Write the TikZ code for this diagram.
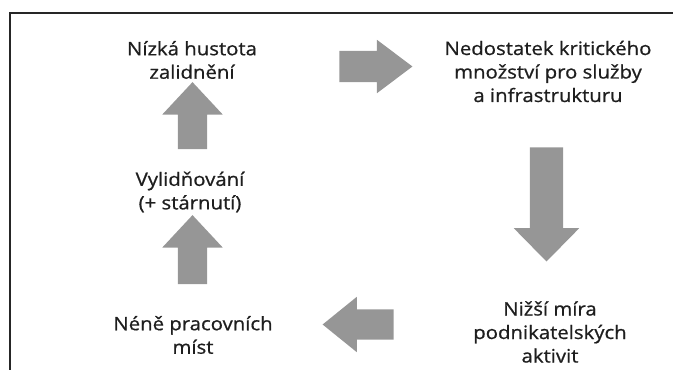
\documentclass[tikz,border=0pt]{standalone}
\usepackage{fontspec}
\newfontfamily\popisfont{Open Sans}[FakeStretch=1.1, FakeBold=0.8]
\usetikzlibrary{shapes.arrows}
\definecolor{sipka}{RGB}{150,150,150}
\definecolor{pismo}{RGB}{30,30,30}
\tikzset{
	popis/.style={align=center, text=pismo, inner sep=0pt,
		font=\popisfont\fontsize{18.5}{23.5}\selectfont},
	blok/.style={shape=single arrow, fill=sipka, draw=none, inner xsep=0pt,
		single arrow head indent=0pt, anchor=center}
}
\begin{document}
\begin{tikzpicture}[x=1pt, y=-1pt]
	\useasboundingbox (0, 0) rectangle (673, 370);
	% Rahmen oben und links
	\draw[line width=2.5pt, black!85] (10, 370) -- (10, 13) -- (673, 13);
	% Texte
	\node[popis] (hustota) at (192, 60) {N\'{\i}zk\'a hustota\\zalidn\v{e}n\'{\i}};
	\node[popis] (kapacita) at (548, 71.5) {Nedostatek kritick\'eho\\mno\v{z}stv\'{\i} pro slu\v{z}by\\a infrastrukturu};
	\node[popis] (podnikani) at (550, 332) {Ni\v{z}\v{s}\'{\i} m\'{\i}ra\\podnikatelsk\'ych\\aktivit};
	\node[popis] (mista) at (193, 335) {N\'en\v{e} pracovn\'{\i}ch\\m\'{\i}st};
	\node[popis] (vylidneni) at (190, 192) {Vylid\v{n}ov\'an\'{\i}\\(+ st\'arnut\'{\i})};
	% Blockpfeile
	\node[blok, inner ysep=15.5pt, minimum height=73pt,
		single arrow head extend=11pt, single arrow tip angle=74] (s1) at (365.5, 66.5) {};
	\node[blok, rotate=-90, inner ysep=16.5pt, minimum height=114pt,
		single arrow head extend=16pt, single arrow tip angle=89] (s2) at (546.5, 196) {};
	\node[blok, rotate=180, inner ysep=15pt, minimum height=71pt,
		single arrow head extend=12.5pt, single arrow tip angle=78] (s3) at (367.5, 324.5) {};
	\node[blok, rotate=90, inner ysep=14.5pt, minimum height=69pt,
		single arrow head extend=15.5pt, single arrow tip angle=86] (s4) at (192.5, 257.5) {};
	\node[blok, rotate=90, inner ysep=14.5pt, minimum height=67pt,
		single arrow head extend=15.5pt, single arrow tip angle=86] (s5) at (192.5, 123.5) {};
\end{tikzpicture}
\end{document}
